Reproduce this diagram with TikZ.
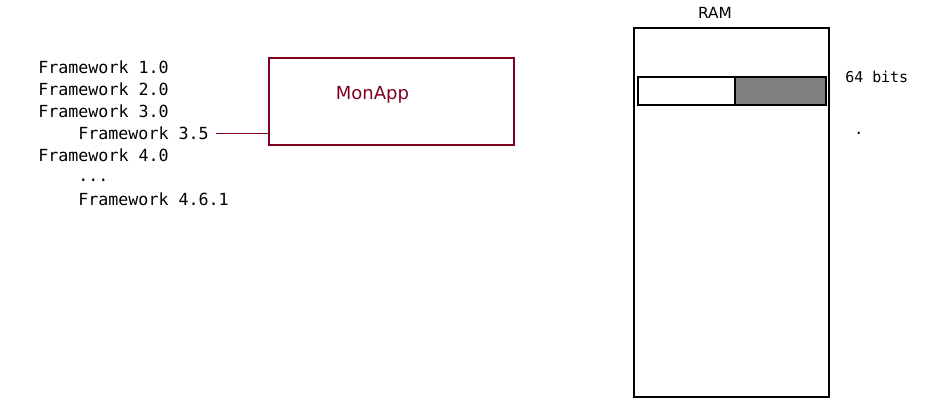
\documentclass[tikz,border=0pt]{standalone}
\usepackage{fontspec}
\setmainfont{DejaVu Sans}
\setmonofont{DejaVu Sans Mono}
\definecolor{appred}{RGB}{128,0,32}
\tikzset{
  fwtext/.style={anchor=west,inner sep=0pt,font=\ttfamily\fontsize{12.5}{15}\selectfont},
  cell/.style={draw,line width=0.8pt,minimum height=21pt,inner sep=0pt}
}
\begin{document}
\begin{tikzpicture}[x=0.75pt,y=0.75pt,yscale=-1,xscale=1]
\path[use as bounding box] (0,0) rectangle (948,409);

% framework list
\node (fw10) [fwtext] at (38,67) {Framework 1.0};
\node (fw20) [fwtext] at (38,89) {Framework 2.0};
\node (fw30) [fwtext] at (38,111) {Framework 3.0};
\node (fw35) [fwtext] at (78,133) {Framework 3.5};
\node (fw40) [fwtext] at (38,155) {Framework 4.0};
\node (fwdots) [fwtext] at (78,180) {...};
\node (fw461) [fwtext] at (78,199) {Framework 4.6.1};

% application
\node (app) [draw=appred,line width=0.8pt,minimum width=183.75pt,minimum height=65.25pt,inner sep=0pt] at (391.5,101.5) {};
\node (applabel) [text=appred,font=\fontsize{13.5}{16}\selectfont,inner sep=0pt] at (372.5,95) {MonApp};
\draw [draw=appred,line width=0.6pt] ([xshift=5pt]fw35.east) -- (fw35.east -| app.west);

% memory
\node (ramlabel) [font=\fontsize{11.5}{14}\selectfont,inner sep=0pt] at (715,13) {RAM};
\node (ram) [draw,line width=0.9pt,minimum width=146.25pt,minimum height=276.75pt,inner sep=0pt] at (731.5,212.5) {};
\node (cellA) [cell,minimum width=72.75pt] at (686.5,91) {};
\node (cellB) [cell,fill=gray,minimum width=68.25pt] at (780.5,91) {};
\node (bits) [fwtext,font=\ttfamily\fontsize{11.2}{13}\selectfont] at (845,77) {64 bits};
\node (dot) [fwtext,font=\ttfamily\fontsize{11.2}{13}\selectfont] at (854,133) {.};

\end{tikzpicture}
\end{document}
